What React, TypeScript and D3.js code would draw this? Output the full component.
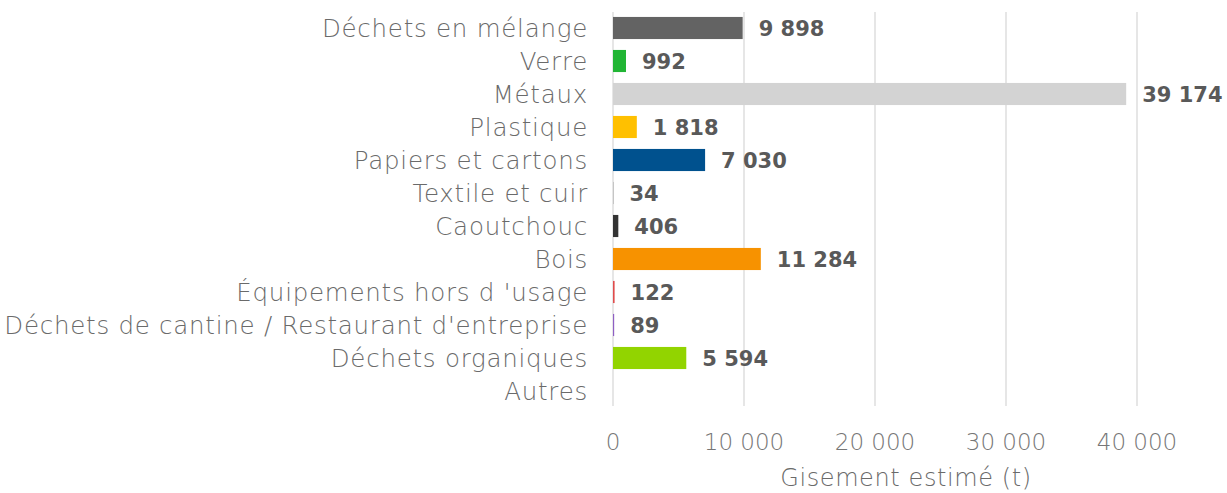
import React from 'react';
import * as d3 from 'd3';

// categories, top to bottom
const categories = [
  'Déchets en mélange',
  'Verre',
  'Métaux',
  'Plastique',
  'Papiers et cartons',
  'Textile et cuir',
  'Caoutchouc',
  'Bois',
  "Équipements hors d 'usage",
  "Déchets de cantine / Restaurant d'entreprise",
  'Déchets organiques',
  'Autres',
];

// gisement estimé (t)
const values: (number | null)[] = [9898, 992, 39174, 1818, 7030, 34, 406, 11284, 122, 89, 5594, null];

const barColors = [
  '#636363', '#21b534', '#d3d3d3', '#ffc000', '#00518e', '#a5a5a5',
  '#333333', '#f79200', '#e04b4b', '#8e5fc4', '#92d400', '#a5a5a5',
];

const xTicks = [0, 10000, 20000, 30000, 40000];
const axisTitle = 'Gisement estimé (t)';

const W = 1227;
const H = 493;
const FONT = "'Century Gothic', 'DejaVu Sans', sans-serif";

// "9 898" style: space as thousands separator
const fmt = (v: number) => d3.format(',')(v).replace(/,/g, ' ');

export default function App() {
  const x = d3.scaleLinear().domain([0, 40000]).range([613, 1137]);
  const y = d3.scaleBand<string>()
    .domain(categories)
    .range([11.5, 407.5])
    .paddingInner(0.33)
    .paddingOuter(0.165);

  return (
    <svg width={W} height={H} style={{ position: 'absolute', left: 0, top: 0, background: '#fff' }}>
      {/* grid */}
      {xTicks.map(t => (
        <line key={t} x1={x(t)} x2={x(t)} y1={12} y2={406} stroke="#d9d9d9" strokeWidth={1.3} />
      ))}

      {/* bars */}
      {categories.map((c, i) => {
        const v = values[i];
        if (v == null) return null;
        return (
          <rect key={c} x={x(0)} y={y(c)} width={Math.max(x(v) - x(0), 0.5)} height={y.bandwidth()} fill={barColors[i]} />
        );
      })}

      {/* value labels */}
      {categories.map((c, i) => {
        const v = values[i];
        if (v == null) return null;
        return (
          <text key={c} x={x(v) + 16} y={(y(c) ?? 0) + y.bandwidth() / 2} dy="0.36em"
            fontFamily={FONT} fontWeight={700} fontSize={21} fill="#595959">
            {fmt(v)}
          </text>
        );
      })}

      {/* category labels */}
      {categories.map(c => (
        <text key={c} x={588} y={(y(c) ?? 0) + y.bandwidth() / 2} dy="0.36em" textAnchor="end"
          fontFamily={FONT} fontWeight={300} fontSize={24.5} letterSpacing={0.75} fill="#6a6a6a">
          {c}
        </text>
      ))}

      {/* x tick labels */}
      {xTicks.map(t => (
        <text key={t} x={x(t)} y={450} textAnchor="middle"
          fontFamily={FONT} fontWeight={300} fontSize={23} fill="#767676">
          {fmt(t)}
        </text>
      ))}

      <text x={906} y={486} textAnchor="middle" fontFamily={FONT} fontWeight={300} fontSize={24}
        letterSpacing={0.6} fill="#6a6a6a">
        {axisTitle}
      </text>
    </svg>
  );
}
